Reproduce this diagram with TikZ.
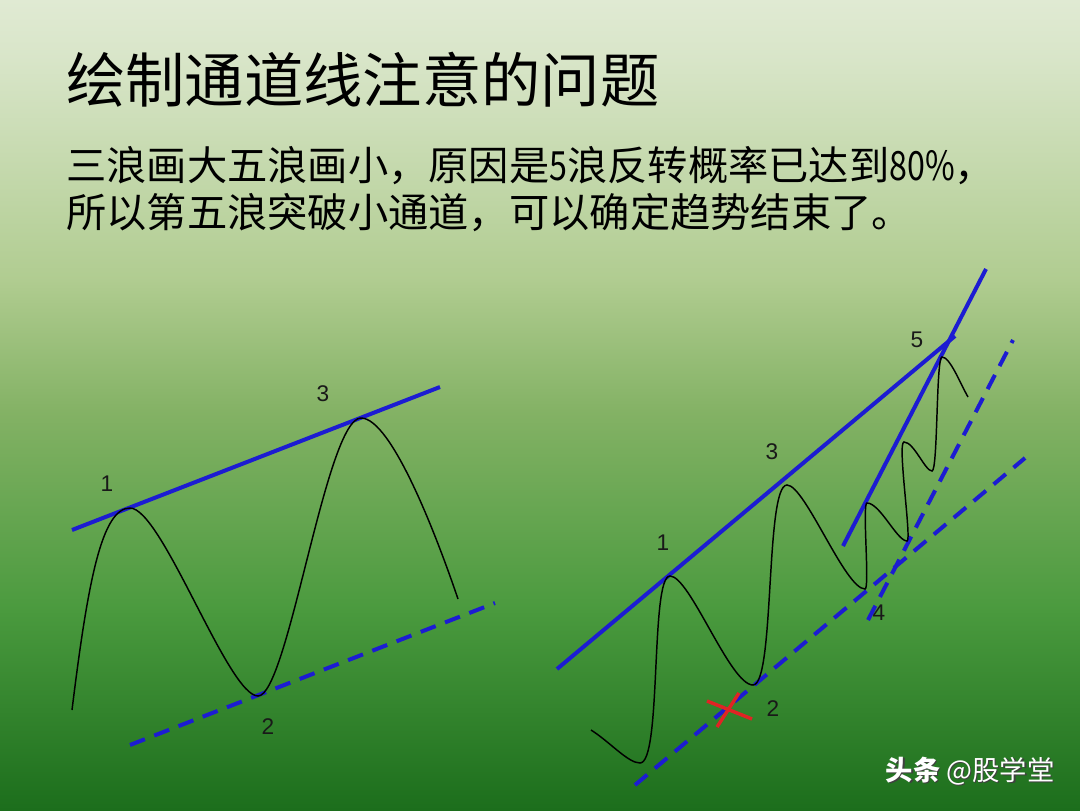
\documentclass[tikz,border=0pt]{standalone}
\usepackage{fontspec}
\setmainfont{Liberation Sans}
\newfontfamily\cjk{Noto Sans CJK SC}
\newfontfamily\cjknarrow[FakeStretch=0.8]{Noto Sans CJK SC}
\definecolor{bgA}{HTML}{E0EAD3}
\definecolor{bgB}{HTML}{D8E5C8}
\definecolor{bgC}{HTML}{B0CC90}
\definecolor{bgD}{HTML}{84B265}
\definecolor{bgE}{HTML}{4A9A3E}
\definecolor{bgF}{HTML}{1C6E1C}
\definecolor{chblue}{HTML}{1C1CD2}
\definecolor{chred}{HTML}{E02424}
\newcommand{\nd}[1]{{\cjknarrow #1}}
\tikzset{
  trendline/.style={draw=chblue,line width=3pt},
  chanline/.style={draw=chblue,line width=3pt,dash pattern=on 12pt off 7.5pt},
  wave/.style={draw=black,line width=1.1pt},
  crossmark/.style={draw=chred,line width=2.6pt},
  wavelabel/.style={inner sep=0pt,font=\fontsize{17pt}{19pt}\selectfont,text=black!90},
  titletext/.style={inner sep=0pt,anchor=west,font=\cjk\fontsize{44.5pt}{50pt}\selectfont,text=black},
  bodytext/.style={inner sep=0pt,anchor=west,font=\cjk\fontsize{30.2pt}{34pt}\selectfont,text=black},
}
\begin{document}
\begin{tikzpicture}[x=0.75pt,y=-0.75pt]
\useasboundingbox (0,0) rectangle (1080,810);
% background gradient
\shade[top color=bgA,bottom color=bgB] (0,0) rectangle (1080,61);
\shade[top color=bgB,bottom color=bgC] (0,60) rectangle (1080,281);
\shade[top color=bgC,bottom color=bgD] (0,280) rectangle (1080,411);
\shade[top color=bgD,bottom color=bgE] (0,410) rectangle (1080,611);
\shade[top color=bgE,bottom color=bgF] (0,610) rectangle (1080,810);

% texts
\node[titletext] (title) at (66,80) {绘制通道线注意的问题};
\node[bodytext] (line1) at (66,166) {三浪画大五浪画小，原因是\nd{5}浪反转概率已达到\nd{80\%}，};
\node[bodytext] (line2) at (66,213) {所以第五浪突破小通道，可以确定趋势结束了。};

% ---------- left chart ----------
\coordinate (LsA) at (72,530);
\coordinate (LsB) at (440,387);
\coordinate (LdA) at (130,745);
\coordinate (LdB) at (495,603);
\draw[trendline] (LsA) -- (LsB);
\draw[chanline] (LdA) -- (LdB);
\coordinate (L0) at (72,710);
\coordinate (L1) at (130,508);
\coordinate (L2) at (258,696);
\coordinate (L3) at (361,418);
\coordinate (L4) at (458,599);
\draw[wave] (L0) .. controls (88,580) and (102,508) .. (L1)
  .. controls (162,508) and (228,696) .. (L2)
  .. controls (288,696) and (326,418) .. (L3)
  .. controls (392,418) and (438,540) .. (L4);
\node[wavelabel] (l1) at (107,484) {1};
\node[wavelabel] (l3) at (323,394) {3};
\node[wavelabel] (l2) at (268,727) {2};

% ---------- right chart ----------
\coordinate (RbA) at (557,669);
\coordinate (RbB) at (955,336);
\coordinate (RsA) at (843,546);
\coordinate (RsB) at (986,269);
\coordinate (RdA) at (635,785);
\coordinate (RdB) at (1025,458);
\coordinate (RtA) at (868,620);
\coordinate (RtB) at (1013,340);
\draw[trendline] (RbA) -- (RbB);
\draw[trendline] (RsA) -- (RsB);
\draw[chanline] (RdA) -- (RdB);
\draw[chanline] (RtA) -- (RtB);

\coordinate (R0) at (591,730);
\coordinate (R1) at (640,763);
\coordinate (R2) at (670,576);
\coordinate (R3) at (753,685);
\coordinate (R4) at (787,485);
\coordinate (R5) at (865,589);
\coordinate (R6) at (867,503);
\coordinate (R7) at (907,541);
\coordinate (R8) at (904,442);
\coordinate (R9) at (932,471);
\coordinate (R10) at (942,357);
\coordinate (R11) at (968,397);
\draw[wave] (R0) .. controls (610,742) and (628,763) .. (R1)
  .. controls (662,763) and (650,576) .. (R2)
  .. controls (690,576) and (730,685) .. (R3)
  .. controls (775,685) and (765,485) .. (R4)
  .. controls (805,485) and (845,589) .. (R5)
  .. controls (870,589) and (862,503) .. (R6)
  .. controls (880,503) and (897,541) .. (R7)
  .. controls (912,541) and (897,442) .. (R8)
  .. controls (914,442) and (925,471) .. (R9)
  .. controls (938,471) and (936,357) .. (R10)
  .. controls (950,357) and (960,383) .. (R11);

% red cross
\coordinate (XaA) at (707,701);
\coordinate (XaB) at (752,719);
\coordinate (XbA) at (739,693);
\coordinate (XbB) at (717,727);
\draw[crossmark] (XaA) -- (XaB);
\draw[crossmark] (XbA) -- (XbB);

\node[wavelabel] (r1) at (663,543) {1};
\node[wavelabel] (r3) at (772,452) {3};
\node[wavelabel] (r5) at (917,340) {5};
\node[wavelabel] (r4) at (879,613) {4};
\node[wavelabel] (r2) at (773,709) {2};

% watermark
\node[inner sep=0pt,text=black!75,font=\cjk\fontsize{20.5pt}{23pt}\selectfont] (wmshadow) at (971.5,772.5) {{\bfseries 头条} @股学堂};
\node[inner sep=0pt,text=white,font=\cjk\fontsize{20.5pt}{23pt}\selectfont] (wm) at (970,771) {{\bfseries 头条} @股学堂};
\end{tikzpicture}
\end{document}
